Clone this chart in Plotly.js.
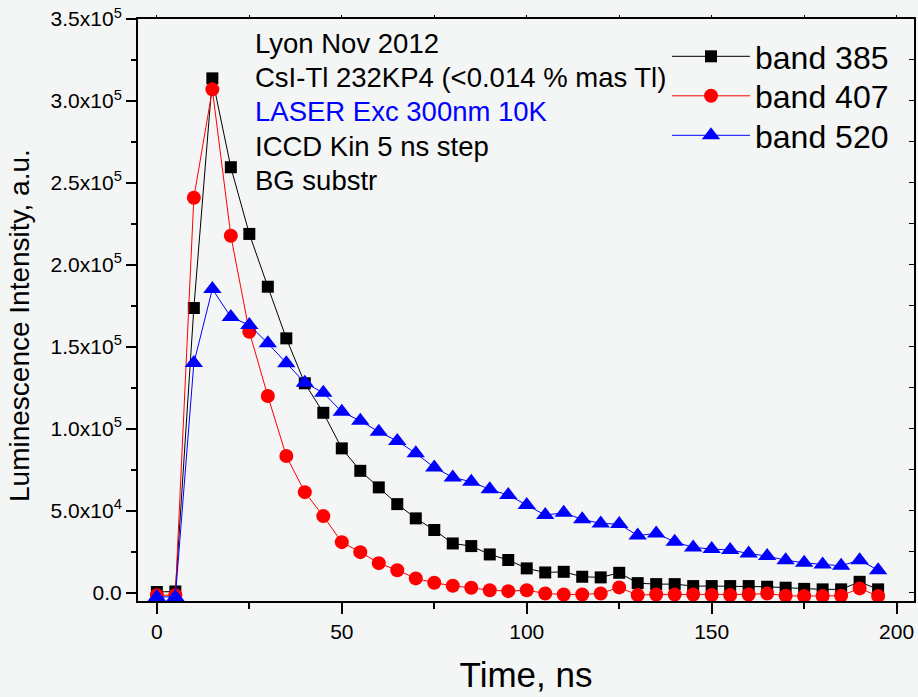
<!DOCTYPE html>
<html>
<head>
<meta charset="utf-8">
<script src="https://cdn.plot.ly/plotly-3.0.1.min.js"></script>
<style>
  html, body { margin: 0; padding: 0; background: #f4f5f5; }
  #chart { width: 918px; height: 697px; }
</style>
</head>
<body>
<div id="chart"></div>
<script>
// Time axis, ns (5 ns kinetic step)
const timeNs = [0, 5, 10, 15, 20, 25, 30, 35, 40, 45, 50, 55, 60, 65, 70, 75, 80, 85, 90, 95,
                100, 105, 110, 115, 120, 125, 130, 135, 140, 145, 150, 155, 160, 165, 170, 175, 180, 185, 190, 195];

// Luminescence intensity, a.u.
const band385 = [500, 800, 173700, 313800, 259600, 218900, 186700, 155200, 127800, 109800,
                 88100, 74400, 64300, 54100, 45400, 38300, 30100, 28500, 23400, 20000,
                 14900, 12400, 12800, 9800, 9400, 12200, 5900, 5300, 5300, 4100,
                 4100, 4100, 4100, 3700, 3100, 2400, 2100, 2100, 6700, 2100];

const band407 = [-1500, -1500, 241000, 307100, 217800, 159200, 120000, 83400, 61400, 46800,
                 30900, 24800, 18100, 13800, 8800, 6100, 4300, 3100, 1600, 1000,
                 1600, -400, -1000, -1000, -400, 3300, -1400, -1000, -1000, -1000,
                 -1400, -1400, -1000, -400, -1800, -2000, -2000, -1800, 2700, -2000];

const band520 = [-2500, -2500, 140100, 185300, 168200, 163300, 152200, 140000, 128100, 122000,
                 110400, 104900, 98200, 92600, 85100, 76500, 70400, 67700, 63100, 59600,
                 53500, 47400, 48800, 44800, 42300, 41900, 34900, 36200, 31100, 27700,
                 26700, 26100, 24000, 22400, 19900, 18300, 17300, 16500, 19900, 13800];

const seriesNames = ['band 385', 'band 407', 'band 520'];
const seriesColors = ['#000000', '#ff0000', '#0000ff'];

// Y tick labels in scientific form
const yTickVals = [0, 50000, 100000, 150000, 200000, 250000, 300000, 350000];
const yTickText = ['0.0', '5.0x10<sup>4</sup>', '1.0x10<sup>5</sup>', '1.5x10<sup>5</sup>',
                   '2.0x10<sup>5</sup>', '2.5x10<sup>5</sup>', '3.0x10<sup>5</sup>', '3.5x10<sup>5</sup>'];

const infoLines = ['Lyon Nov 2012', 'CsI-Tl 232KP4 (<0.014 % mas Tl)', 'LASER Exc 300nm 10K',
                   'ICCD Kin 5 ns step', 'BG substr'];
const infoColors = ['#000000', '#000000', '#0000ff', '#000000', '#000000'];

const FONT = '"Liberation Sans", Arial, sans-serif';
const X_RANGE = [-5.1, 204.7];
const Y_RANGE = [-5000, 350000];

// plot-area geometry in px, used to place paper-referenced items
const PLOT_L = 138, PLOT_T = 19, PLOT_W = 776, PLOT_H = 582;
const px2paperX = px => (px - PLOT_L) / PLOT_W;
const px2paperY = py => (PLOT_T + PLOT_H - py) / PLOT_H;

const traces = [
  {
    x: timeNs, y: band385, name: seriesNames[0], type: 'scatter', mode: 'lines+markers',
    legend: 'legend',
    line: { color: seriesColors[0], width: 1 },
    marker: { symbol: 'square', size: 12, color: seriesColors[0] }
  },
  {
    x: timeNs, y: band407, name: seriesNames[1], type: 'scatter', mode: 'lines+markers',
    legend: 'legend2',
    line: { color: seriesColors[1], width: 1 },
    marker: { symbol: 'circle', size: 14, color: seriesColors[1] }
  },
  {
    x: timeNs, y: band520, name: seriesNames[2], type: 'scatter', mode: 'lines+markers',
    legend: 'legend3',
    line: { color: seriesColors[2], width: 1 },
    marker: { symbol: 'triangle-up', size: 16, color: seriesColors[2] }
  },
  // carrier for the top / right frame axes
  { x: [], y: [], xaxis: 'x2', yaxis: 'y2', showlegend: false, hoverinfo: 'skip', type: 'scatter' }
];

const annotations = infoLines.map((t, i) => ({
  xref: 'paper', yref: 'paper',
  x: px2paperX(253), y: px2paperY(44 + i * 34),
  xanchor: 'left', yanchor: 'middle',
  text: t, showarrow: false,
  font: { family: FONT, size: 27.5, color: infoColors[i] }
}));

annotations.push({
  xref: 'paper', yref: 'paper',
  x: px2paperX(19), y: px2paperY(326),
  xanchor: 'center', yanchor: 'middle',
  text: 'Luminescence Intensity, a.u.', textangle: -90, showarrow: false,
  font: { family: FONT, size: 28, color: '#000000' }
});

// one legend per series so each row sits at its own height
const legendBase = {
  xanchor: 'left', yanchor: 'top',
  bgcolor: 'rgba(0,0,0,0)', borderwidth: 0,
  font: { family: FONT, size: 32, color: '#000000' },
  itemwidth: 78
};
const legendLeftPx = 667;
const legendRowsPx = [58, 97.5, 137];

const layout = {
  width: 918, height: 697,
  margin: { l: PLOT_L, r: 4, t: PLOT_T, b: 96 },
  paper_bgcolor: '#f4f5f5',
  plot_bgcolor: '#f4f5f5',
  font: { family: FONT, color: '#000000' },
  showlegend: true,
  legend: Object.assign({}, legendBase, { x: px2paperX(legendLeftPx), y: px2paperY(legendRowsPx[0] - 29) }),
  legend2: Object.assign({}, legendBase, { x: px2paperX(legendLeftPx), y: px2paperY(legendRowsPx[1] - 29) }),
  legend3: Object.assign({}, legendBase, { x: px2paperX(legendLeftPx), y: px2paperY(legendRowsPx[2] - 29) }),
  xaxis: {
    range: X_RANGE, autorange: false,
    showgrid: false, zeroline: false,
    showline: true, linecolor: '#000000', linewidth: 2, mirror: true,
    ticks: 'outside', ticklen: 11, tickwidth: 2, tickcolor: '#000000',
    tickmode: 'linear', tick0: 0, dtick: 50,
    minor: { tickmode: 'linear', tick0: 0, dtick: 25, ticks: 'outside', ticklen: 6, tickwidth: 2, tickcolor: '#000000', showgrid: false },
    tickfont: { family: FONT, size: 21, color: '#000000' },
    title: { text: 'Time, ns', font: { family: FONT, size: 35, color: '#000000' }, standoff: 20 }
  },
  yaxis: {
    range: Y_RANGE, autorange: false,
    showgrid: false, zeroline: false,
    showline: true, linecolor: '#000000', linewidth: 2, mirror: true,
    ticks: 'outside', ticklen: 10, tickwidth: 2, tickcolor: '#000000',
    tickmode: 'array', tickvals: yTickVals, ticktext: yTickText,
    minor: { tickmode: 'linear', tick0: 0, dtick: 25000, ticks: 'outside', ticklen: 5, tickwidth: 2, tickcolor: '#000000', showgrid: false },
    tickfont: { family: FONT, size: 21, color: '#000000' }
  },
  xaxis2: {
    overlaying: 'x', side: 'top', anchor: 'y2',
    range: X_RANGE, autorange: false,
    showgrid: false, zeroline: false, showline: false, showticklabels: false,
    ticks: 'outside', ticklen: 3, tickwidth: 1, tickcolor: '#000000',
    tickmode: 'linear', tick0: 0, dtick: 25
  },
  yaxis2: {
    overlaying: 'y', side: 'right', anchor: 'x2',
    range: Y_RANGE, autorange: false,
    showgrid: false, zeroline: false, showline: false, showticklabels: false,
    ticks: 'inside', ticklen: 5, tickwidth: 1, tickcolor: '#000000',
    tickmode: 'linear', tick0: 0, dtick: 25000
  },
  annotations: annotations
};

Plotly.newPlot('chart', traces, layout, { displayModeBar: false, staticPlot: true });
</script>
</body>
</html>
